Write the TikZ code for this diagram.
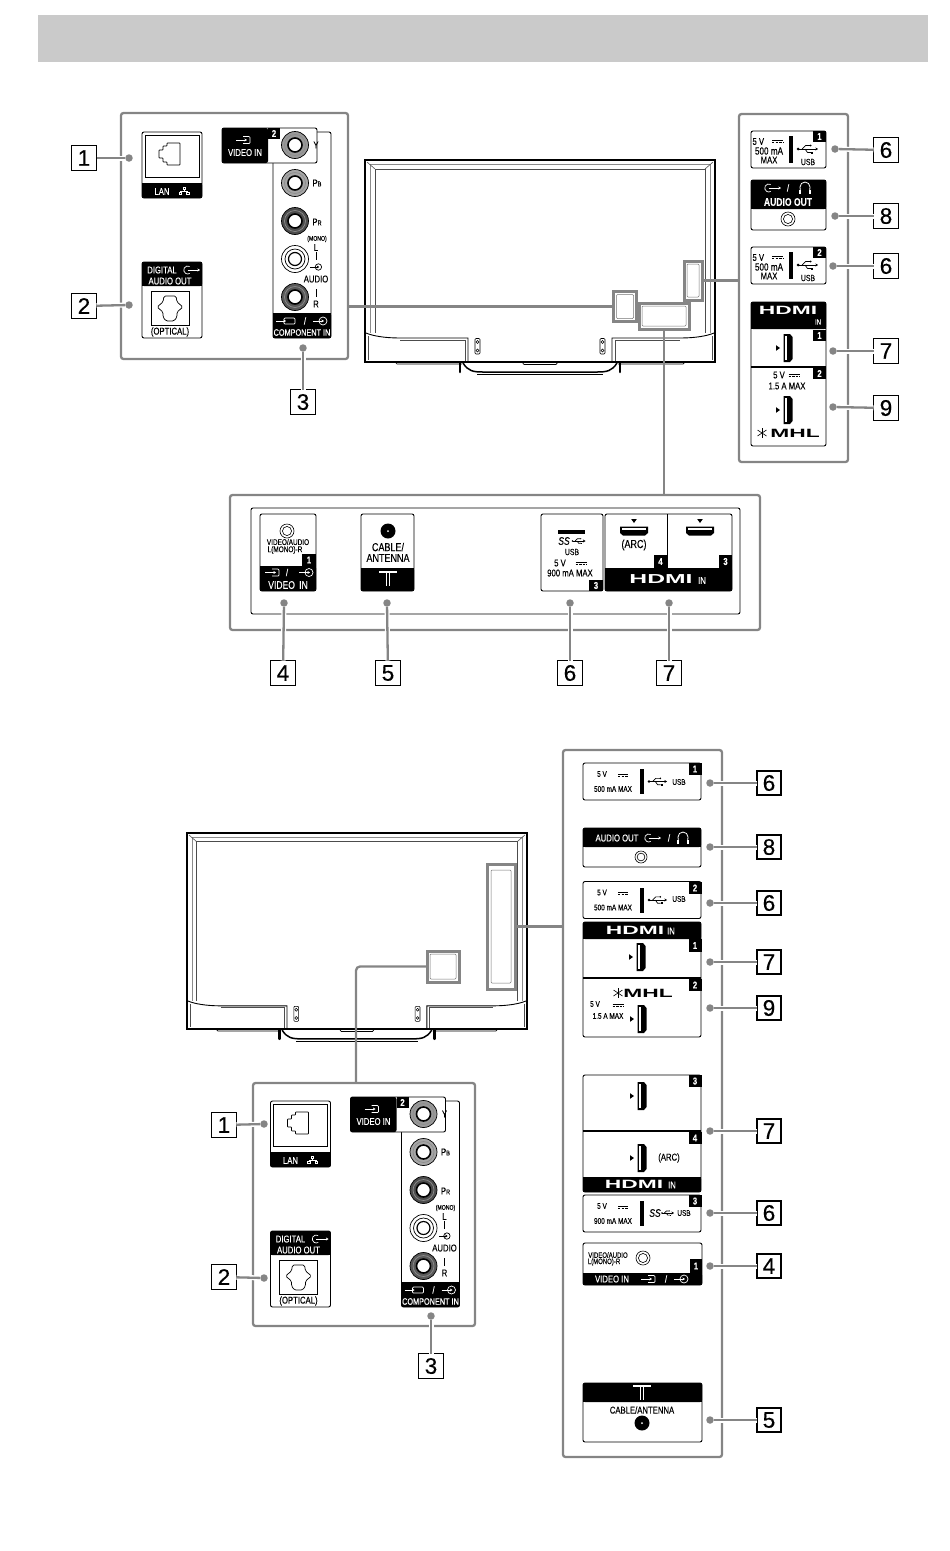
\documentclass[tikz,border=0pt]{standalone}
\usepackage{fontspec}
\setmainfont{Liberation Sans}
\newfontfamily\condfont[FakeStretch=0.78,Scale=1.1,FakeBold=0.15]{Liberation Sans}
\newfontfamily\numfont[FakeBold=0.5]{Liberation Sans}
\newfontfamily\logofont[FakeStretch=1.9]{Liberation Sans Bold}
\usetikzlibrary{arrows.meta}
\definecolor{wiregray}{HTML}{858585}
\definecolor{bandgray}{HTML}{CACACA}
\newcommand{\fs}[1]{\fontsize{#1}{#1}\selectfont}
\newcommand{\headbar}[4]{\fill[rounded corners=2] (#1,#2) rectangle (#3,#4); \fill (#1,#2+3) rectangle (#3,#4);}
\newcommand{\footbar}[4]{\fill[rounded corners=2] (#1,#2) rectangle (#3,#4); \fill (#1,#2) rectangle (#3,#4-3);}
\tikzset{
  >={Stealth[length=2.6pt,width=3pt]},
  lbl/.style={inner sep=0, outer sep=0, font=\condfont\fs{#1}},
  lbl/.default=9,
  wlbl/.style={lbl=#1, text=white},
  wlbl/.default=9,
  logo/.style={inner sep=0, outer sep=0, font=\logofont\fs{#1}},
  badge/.style={fill=black, text=white, inner sep=0, minimum width=13, minimum height=11.5, font=\condfont\bfseries\fs{9}},
  numbox/.style={draw, fill=white, line width=1.2, inner sep=0, outer sep=0, minimum width=25, minimum height=25, font=\numfont\fs{22.5}},
  dotmark/.style={circle, fill=wiregray, inner sep=0, outer sep=0, minimum size=7.5},
  wire/.style={draw=wiregray, line width=2.3},
  leadwire/.style={wire, preaction={draw=white, line width=5}},
  frame/.style={draw=wiregray, line width=2.3, rounded corners=2.5, inner sep=0, outer sep=0},
  portpanel/.style={draw, line width=0.9, rounded corners=2, inner sep=0, outer sep=0},
  cutout/.style={draw=wiregray, line width=3, inner sep=0, outer sep=0},
  cutin/.style={draw=black!55, line width=0.5, rounded corners=1},
  tvline/.style={draw=black!70, line width=0.6},
  pics/jack/.style={code={
    \draw[fill=#1, line width=0.7] (0,0) circle [radius=13.5];
    \draw[draw=black!45, line width=0.7] (0,0) circle [radius=10.5];
    \draw[fill=white, line width=1.6] (0,0) circle [radius=7];
  }},
  pics/wjack/.style={code={
    \draw[line width=0.7] (0,0) circle [radius=13.5];
    \draw[line width=0.7] (0,0) circle [radius=10];
    \draw[line width=1.2] (0,0) circle [radius=6.5];
  }},
  pics/minijack/.style={code={
    \draw[line width=0.6] (0,0) circle [radius=#1];
    \draw[line width=0.6] (0,0) circle [radius=#1*0.65];
  }},
  pics/coax/.style={code={
    \fill (0,0) circle [radius=7.5];
    \fill[white] (0,0) circle [radius=1];
  }},
  pics/boxin/.style={code={
    \draw[line width=0.7, rounded corners=1] (-1,-3.5) -- (6,-3.5) -- (6,3.5) -- (-1,3.5);
    \draw[line width=0.7, ->] (-8,0) -- (3,0);
  }},
  pics/circin/.style={code={
    \draw[line width=0.7] (3,0) circle [radius=4];
    \draw[line width=0.7, ->] (-7,0) -- (4,0);
  }},
  pics/compin/.style={code={
    \draw[line width=0.7, rounded corners=1] (-2,-3) rectangle (9,3);
    \draw[line width=0.7, ->] (-10,0) -- (0,0);
  }},
  pics/sigout/.style={code={
    \draw[line width=0.7] (-2.3,-3.5) arc [start angle=-60, end angle=-300, radius=4];
    \draw[line width=0.7, ->] (-4.3,0) -- (8,0);
  }},
  pics/phones/.style={code={
    \draw[line width=0.8] (-4.5,4) -- (-5,-1) arc [start angle=180, end angle=360, radius=5] -- (4.5,4);
    \fill (-5.8,1.5) rectangle (-3.8,5.5);
    \fill (3.8,1.5) rectangle (5.8,5.5);
  }},
  pics/dcsym/.style={code={
    \draw[line width=0.6] (-5.5,-1) -- (5.5,-1);
    \draw[line width=0.6, dash pattern=on 2.4pt off 1.2pt] (-5.5,1) -- (5.5,1);
  }},
  pics/trident/.style={code={
    \fill (-10,0) circle [radius=1.5];
    \draw[line width=0.7, ->] (-10,0) -- (10,0);
    \draw[line width=0.7] (-6,0) -- (-2.5,-3.5) -- (2,-3.5);
    \fill (2.6,-3.5) circle [radius=1];
    \draw[line width=0.7] (-3,0) -- (-0.5,3.5) -- (3,3.5);
    \fill (3,2.5) rectangle (5,4.5);
  }},
  pics/lansym/.style={code={
    \draw[line width=0.5] (-1.2,-3.8) rectangle (1.2,-1.8);
    \draw[line width=0.5] (0,-1.8) -- (0,0);
    \draw[line width=0.5] (-3.7,0) -- (3.7,0);
    \draw[line width=0.5] (-3.7,0) -- (-3.7,1.2);
    \draw[line width=0.5] (3.7,0) -- (3.7,1.2);
    \draw[line width=0.5] (-5,1.2) rectangle (-2.4,3.4);
    \draw[line width=0.5] (2.4,1.2) rectangle (5,3.4);
  }},
  pics/hdmiport/.style={code={
    \fill (-12,-2.8) -- (-8,0) -- (-12,2.8) -- cycle;
    \fill (-4.5,-14) -- (2,-14) -- (4.5,-11) -- (4.5,11) -- (2,14) -- (-4.5,14) -- cycle;
    \fill[white] (-2.8,-12) -- (-0.8,-12) -- (-0.8,12) -- (-2.8,12) -- cycle;
  }},
  pics/antsym/.style={code={
    \draw[line width=1.4] (-9,-7) -- (9,-7);
    \draw[line width=1] (-1.6,-7) -- (-1.6,7);
    \draw[line width=1] (1.6,-7) -- (1.6,7);
  }},
  pics/star/.style={code={
    \draw[line width=0.6] (-4.5,-3) -- (4.5,3);
    \draw[line width=0.6] (-4.5,3) -- (4.5,-3);
    \draw[line width=0.6] (0,-5) -- (0,5);
  }},
  pics/tvrear/.style={code={
    \draw[line width=1.5] (0,0) rectangle (350,202);
    \draw[draw=black!45, line width=0.6] (5,173) -- (5,4) -- (345,4) -- (345,173);
    \draw[tvline] (10,173) -- (10,9) -- (340,9) -- (340,173);
    \draw[tvline] (2,2) -- (10,9);
    \draw[tvline] (348,2) -- (340,9);
    \draw[line width=0.9] (103,201) -- (103,178) -- (35,178) .. controls (20,178) and (8,176) .. (1,173);
    \draw[line width=0.9] (247,201) -- (247,178) -- (315,178) .. controls (330,178) and (342,176) .. (349,173);
    \draw[tvline] (100,201) -- (100,180) -- (35,180);
    \draw[tvline] (250,201) -- (250,180) -- (315,180);
    \draw[tvline] (3,176) -- (3,200);
    \draw[tvline] (347,176) -- (347,200);
    \draw[line width=0.6, rounded corners=1] (110,178.5) rectangle (115,194);
    \draw[line width=0.6, rounded corners=1] (235,178.5) rectangle (240,194);
    \draw[line width=0.5] (112.5,182) circle [radius=1.5];
    \draw[line width=0.5] (112.5,190.5) circle [radius=1.5];
    \draw[line width=0.5] (237.5,182) circle [radius=1.5];
    \draw[line width=0.5] (237.5,190.5) circle [radius=1.5];
    \draw[line width=0.7] (30,202) -- (32,204) -- (97,204);
    \draw[line width=0.7] (253,204) -- (318,204) -- (320,202);
    \draw[line width=0.7] (157,202) -- (159,204.5) -- (191,204.5) -- (193,202);
    \draw[line width=2.6, line cap=round] (95,203) -- (95,212);
    \draw[line width=2.6, line cap=round] (255,203) -- (255,212);
    \draw[line width=1.5] (98,203) .. controls (103,211) and (108,212) .. (118,212) -- (232,212) .. controls (242,212) and (247,211) .. (252,203);
    \draw[line width=0.6] (112,214) -- (238,214);
  }},
  pics/usbtall/.style={code={
    \node[portpanel, minimum width=75, minimum height=37] (-box) at (0,0) {};
    \node[lbl, anchor=west] (-volt) at (-36,-8) {5 V};
    \pic (-dc) at (-11,-8.5) {dcsym};
    \node[lbl=9.5] (-amp) at (-19.5,1.5) {#1 mA};
    \node[lbl] (-max) at (-19.5,10.5) {MAX};
    \fill (0.5,-13.5) rectangle (4.5,13.5);
    \pic (-tri) at (19.5,-0.5) {trident};
    \node[lbl=8] (-usb) at (19.5,12.5) {USB};
  }},
  pics/usbwide/.style={code={
    \node[portpanel, minimum width=118, minimum height=37] (-box) at (0,0) {};
    \node[lbl=7.5] (-volt) at (-40,-7.5) {5 V};
    \pic[scale=0.9] (-dc) at (-19,-6.5) {dcsym};
    \node[lbl=7.5] (-amp) at (-29,7.5) {#1 mA MAX};
    \fill (-2,-12.5) rectangle (2,12.5);
  }},
  pics/rearpanel/.style={code={
    \footbar{142}{183}{202}{198}
    \node[portpanel, minimum width=60, minimum height=66] (-lan) at (172,165) {};
    \draw[line width=0.8] (145,135) rectangle (199,177);
    \draw[line width=0.7, rounded corners=0.6] (180,143) -- (167,143) -- (167,146) -- (163,146) -- (163,150) -- (159,150) -- (159,158) -- (163,158) -- (163,162) -- (167,162) -- (167,165) -- (180,165) -- cycle;
    \node[wlbl] (-lanlabel) at (162,191.5) {LAN};
    \pic[white] (-lansym) at (184,191) {lansym};
    \headbar{142}{262}{202}{286}
    \node[portpanel, minimum width=60, minimum height=76] (-optical) at (172,300) {};
    \node[wlbl] (-digital) at (162,270) {DIGITAL};
    \pic[white] (-out) at (192,270) {sigout};
    \node[wlbl] (-audioout) at (170,281) {AUDIO OUT};
    \draw[line width=0.8] (151,291) rectangle (189,325);
    \draw[line width=0.7, rounded corners=1.5] (164,296) -- (176,296) -- (177,302) -- (183,307) -- (177,312) -- (177,317) -- (174,321) -- (166,321) -- (163,317) -- (163,312) -- (157,307) -- (163,302) -- cycle;
    \node[lbl] (-opticallabel) at (170,332) {(OPTICAL)};
    \footbar{273}{313}{331}{338}
    \node[portpanel, minimum width=58, minimum height=206] (-comp) at (302,235) {};
    \node[portpanel, fill=white, minimum width=95, minimum height=35] (-ybox) at (269.5,145.5) {};
    \fill[rounded corners=2] (222,128) rectangle (268,163);
    \node[badge, minimum width=12, minimum height=11] (-two) at (274,133.5) {2};
    \pic[white] (-boxin) at (244,140) {boxin};
    \node[wlbl] (-videoin) at (245,152.5) {VIDEO IN};
    \pic (-jy) at (295,145) {jack=black!40};
    \pic (-jb) at (295,183) {jack=black!35};
    \pic (-jr) at (295,221) {jack=black!70};
    \pic (-jl) at (295,259) {wjack};
    \pic (-jm) at (295,297) {jack=black!65};
    \node[lbl] (-y) at (316,145) {Y};
    \node[lbl] (-pb) at (317,183) {P{\fs{6.5}B}};
    \node[lbl] (-pr) at (317,222) {P{\fs{6.5}R}};
    \node[lbl=6] (-mono) at (317,239) {(MONO)};
    \node[lbl] (-l) at (316,247.5) {L};
    \draw[line width=0.6] (316,252) -- (316,260);
    \pic[scale=0.8] (-auin) at (316,267) {circin};
    \node[lbl] (-audio) at (316,279) {AUDIO};
    \draw[line width=0.6] (316,289) -- (316,297);
    \node[lbl] (-r) at (316,304) {R};
    \pic[white] (-compicon) at (286,321) {compin};
    \node[wlbl] (-slash) at (305,321) {/};
    \pic[white] (-compcirc) at (320,321) {circin};
    \node[wlbl=8.5] (-compin) at (302,332.5) {COMPONENT IN};
  }},
}
\begin{document}
\begin{tikzpicture}[x=1pt, y=-1pt]
  \useasboundingbox (0,0) rectangle (950,1551);

  \fill[bandgray] (38,15) rectangle (928,62);

  \pic (tvtop) at (365,160) {tvrear};
  \pic[scale=0.971] (tvbot) at (187,833) {tvrear};

  \node[cutout, minimum width=23, minimum height=30] (cuta) at (625,306.5) {};
  \node[cutout, minimum width=50, minimum height=26] (cutb) at (664,316) {};
  \node[cutout, minimum width=18, minimum height=39] (cutc) at (693,280.5) {};
  \node[cutout, minimum width=32, minimum height=31] (cutd) at (443,966.5) {};
  \node[cutout, minimum width=28, minimum height=125] (cute) at (501,926.5) {};
  \draw[cutin] ([shift={(3,-3)}]cuta.south west) rectangle ([shift={(-3,3)}]cuta.north east);
  \draw[cutin] ([shift={(3,-3)}]cutb.south west) rectangle ([shift={(-3,3)}]cutb.north east);
  \draw[cutin] ([shift={(3,-3)}]cutc.south west) rectangle ([shift={(-3,3)}]cutc.north east);
  \draw[cutin] ([shift={(3,-3)}]cutd.south west) rectangle ([shift={(-3,3)}]cutd.north east);
  \draw[cutin] ([shift={(4,-6)}]cute.south west) rectangle ([shift={(-4,6)}]cute.north east);

  \node[frame, minimum width=227, minimum height=246] (framea) at (234.5,236) {};
  \node[frame, minimum width=109, minimum height=348] (frameb) at (793.5,288) {};
  \node[frame, minimum width=530, minimum height=135] (framec) at (495,562.5) {};
  \node[portpanel, minimum width=489, minimum height=106] (framecin) at (495.5,561) {};
  \node[frame, minimum width=222, minimum height=243] (framed) at (364,1204.5) {};
  \node[frame, minimum width=159, minimum height=707] (framee) at (642.5,1103.5) {};
  \coordinate (feed) at (356,1083);

  \draw[wire] (cuta.west) -- (cuta.west -| framea.east);
  \draw[wire] (cutc.east) -- (cutc.east -| frameb.west);
  \draw[wire] (cutb.south) -- (cutb.south |- framec.north);
  \draw[wire] (cute.east) -- (cute.east -| framee.west);
  \draw[wire, rounded corners=4] (cutd.west) -| (feed);

  \pic (reara) at (0,0) {rearpanel};
  \pic (reard) at (128.5,969) {rearpanel};

  \node[numbox] (n1a) at (84,158) {1};
  \node[numbox] (n2a) at (84,306) {2};
  \node[numbox] (n3a) at (303,402) {3};
  \node[dotmark] (d1a) at (129,158) {};
  \node[dotmark] (d2a) at (129,305) {};
  \node[dotmark] (d3a) at (303,348) {};
  \draw[leadwire] (n1a) -- (d1a);
  \draw[leadwire] (n2a) -- (d2a);
  \draw[leadwire] (n3a) -- (d3a);

  \node[numbox] (n1d) at (224,1125) {1};
  \node[numbox] (n2d) at (224,1277) {2};
  \node[numbox] (n3d) at (431,1366) {3};
  \node[dotmark] (d1d) at (264,1124) {};
  \node[dotmark] (d2d) at (264,1278) {};
  \node[dotmark] (d3d) at (431,1316) {};
  \draw[leadwire] (n1d) -- (d1d);
  \draw[leadwire] (n2d) -- (d2d);
  \draw[leadwire] (n3d) -- (d3d);

  \pic (usba) at (788.5,149.5) {usbtall=500};
  \node[badge] (usbabadge) at (819.5,136.5) {1};
  \pic (usbb) at (788.5,265.5) {usbtall=500};
  \node[badge] (usbbbadge) at (819.5,252.5) {2};

  \headbar{751}{180}{826}{209}
  \node[portpanel, minimum width=75, minimum height=50] (audioa) at (788.5,205) {};
  \pic[white] (audioaout) at (773,188) {sigout};
  \node[wlbl] (audioaslash) at (788,188) {/};
  \pic[white] (audioaph) at (805,188) {phones};
  \node[wlbl=10] (audioatext) at (788,202) {\bfseries AUDIO OUT};
  \pic (audioajack) at (788,219) {minijack=7};

  \headbar{751}{302}{826}{329}
  \node[portpanel, minimum width=75, minimum height=144] (hdmia) at (788.5,374) {};
  \node[logo=12, text=white] (hdmialogo) at (788,310.5) {HDMI};
  \node[wlbl=7] (hdmiain) at (818,322) {IN};
  \node[badge] (hdmiaone) at (819.5,335.5) {1};
  \pic (hdmiaport) at (788,348) {hdmiport};
  \draw[line width=1.4] (751,367) -- (826,367);
  \node[badge] (hdmiatwo) at (819.5,373.5) {2};
  \node[lbl] (hdmiavolt) at (779,375) {5 V};
  \pic (hdmiadc) at (794,375) {dcsym};
  \node[lbl] (hdmiaamp) at (787,386) {1.5 A MAX};
  \pic (hdmiaportb) at (788,410) {hdmiport};
  \pic (hdmiastar) at (762,433) {star};
  \node[logo=12] (hdmiamhl) at (795,433) {MHL};

  \node[numbox] (n6a) at (886,150) {6};
  \node[numbox] (n8a) at (886,216) {8};
  \node[numbox] (n6b) at (886,266) {6};
  \node[numbox] (n7a) at (886,351) {7};
  \node[numbox] (n9a) at (886,408) {9};
  \node[dotmark] (d6a) at (835,149) {};
  \node[dotmark] (d8a) at (835,216) {};
  \node[dotmark] (d6b) at (833,266) {};
  \node[dotmark] (d7a) at (833,351) {};
  \node[dotmark] (d9a) at (833,407) {};
  \draw[leadwire] (n6a) -- (d6a);
  \draw[leadwire] (n8a) -- (d8a);
  \draw[leadwire] (n6b) -- (d6b);
  \draw[leadwire] (n7a) -- (d7a);
  \draw[leadwire] (n9a) -- (d9a);

  \footbar{260}{566}{316}{591}
  \node[portpanel, minimum width=56, minimum height=77] (videoa) at (288,552.5) {};
  \pic (videoajack) at (287,531) {minijack=7};
  \node[lbl=7.5] (videoatext) at (288,542) {VIDEO/AUDIO};
  \node[lbl=7.5] (videoatextb) at (285,550) {L(MONO)-R};
  \node[badge, minimum width=14, minimum height=12] (videoabadge) at (309,560) {1};
  \pic[white] (videoabox) at (273,572.5) {boxin};
  \node[wlbl] (videoaslash) at (287,572.5) {/};
  \pic[white] (videoacirc) at (306,572.5) {circin};
  \node[wlbl=10] (videoain) at (288,585) {VIDEO\, IN};

  \footbar{361}{568}{414}{591}
  \node[portpanel, minimum width=53, minimum height=77] (cablea) at (387.5,552.5) {};
  \pic (cableajack) at (388,531) {coax};
  \node[lbl=10.5] (cableatext) at (388,547) {CABLE/};
  \node[lbl=10.5] (cableatextb) at (388,558) {ANTENNA};
  \pic[white] (cableaant) at (388,579) {antsym};

  \node[portpanel, minimum width=62, minimum height=77] (usbc) at (572,552.5) {};
  \fill (558,529.5) rectangle (585,533.5);
  \node[lbl=10] (usbcss) at (564,541) {\itshape SS};
  \pic[scale=0.65] (usbctri) at (579,541) {trident};
  \node[lbl=8] (usbclabel) at (572,552) {USB};
  \node[lbl] (usbcvolt) at (560,563) {5 V};
  \pic (usbcdc) at (581,563) {dcsym};
  \node[lbl] (usbcamp) at (570,573) {900 mA MAX};
  \node[badge, minimum width=14] (usbcbadge) at (596,585.5) {3};

  \footbar{605}{568}{732}{591}
  \node[portpanel, minimum width=127, minimum height=77] (hdmib) at (668.5,552.5) {};
  \draw[line width=0.9] (667,514) -- (667,568);
  \pic[rotate=-90] (hdmibport) at (634,531) {hdmiport};
  \node[lbl=10.5] (hdmibarc) at (634,545) {(ARC)};
  \pic[rotate=-90] (hdmibportb) at (700,531) {hdmiport};
  \node[badge, minimum height=13] (hdmibfour) at (660.5,561.5) {4};
  \node[badge, minimum height=13] (hdmibthree) at (725.5,561.5) {3};
  \node[logo=13, text=white] (hdmiblogo) at (661,579.5) {HDMI};
  \node[wlbl=9] (hdmibin) at (702,580.5) {IN};

  \node[numbox] (n4c) at (283,673) {4};
  \node[numbox] (n5c) at (388,673) {5};
  \node[numbox] (n6c) at (570,673) {6};
  \node[numbox] (n7c) at (669,673) {7};
  \node[dotmark] (d4c) at (284,603) {};
  \node[dotmark] (d5c) at (387,603) {};
  \node[dotmark] (d6c) at (570,603) {};
  \node[dotmark] (d7c) at (669,603) {};
  \draw[leadwire] (n4c) -- (d4c);
  \draw[leadwire] (n5c) -- (d5c);
  \draw[leadwire] (n6c) -- (d6c);
  \draw[leadwire] (n7c) -- (d7c);

  \pic (usbd) at (642,781.5) {usbwide=500};
  \pic[scale=0.9] (usbdtri) at (658,781.5) {trident};
  \node[lbl=7.5] (usbdlabel) at (679,782) {USB};
  \node[badge] (usbdbadge) at (695,769) {1};

  \headbar{583}{828}{701}{847}
  \node[portpanel, minimum width=118, minimum height=39] (audiob) at (642,847.5) {};
  \node[wlbl] (audiobtext) at (617,838) {AUDIO OUT};
  \pic[white] (audiobout) at (653,838) {sigout};
  \node[wlbl] (audiobslash) at (669,838) {/};
  \pic[white] (audiobph) at (683,838) {phones};
  \pic (audiobjack) at (641,857) {minijack=6};

  \pic (usbe) at (642,900) {usbwide=500};
  \pic[scale=0.9] (usbetri) at (658,900) {trident};
  \node[lbl=7.5] (usbelabel) at (679,899) {USB};
  \node[badge] (usbebadge) at (695,888) {2};

  \headbar{583}{922}{701}{939}
  \node[portpanel, minimum width=118, minimum height=115] (hdmic) at (642,979.5) {};
  \node[logo=12, text=white] (hdmiclogo) at (635,930.5) {HDMI};
  \node[wlbl] (hdmicin) at (671,931) {IN};
  \node[badge, minimum height=13] (hdmicone) at (695,945.5) {1};
  \pic (hdmicport) at (641,957) {hdmiport};
  \draw[line width=1.4] (583,978) -- (701,978);
  \node[badge] (hdmictwo) at (695,985) {2};
  \pic (hdmicstar) at (618,993) {star};
  \node[logo=12] (hdmicmhl) at (648,993) {MHL};
  \node[lbl=7.5] (hdmicvolt) at (595,1004) {5 V};
  \pic (hdmicdc) at (618,1005) {dcsym};
  \node[lbl=7.5] (hdmicamp) at (608,1016) {1.5 A MAX};
  \pic (hdmicportb) at (642,1019) {hdmiport};

  \footbar{583}{1177}{701}{1192}
  \node[portpanel, minimum width=118, minimum height=117] (hdmid) at (642,1133.5) {};
  \pic (hdmidport) at (642,1096) {hdmiport};
  \node[badge] (hdmidthree) at (695,1081) {3};
  \draw[line width=1.4] (583,1131) -- (701,1131);
  \pic (hdmidportb) at (642,1158) {hdmiport};
  \node[badge] (hdmidfour) at (695,1138) {4};
  \node[lbl] (hdmidarc) at (669,1158) {(ARC)};
  \node[logo=12, text=white] (hdmidlogo) at (634,1184.5) {HDMI};
  \node[wlbl] (hdmidin) at (672,1185) {IN};

  \pic (usbf) at (642,1213.5) {usbwide=900};
  \node[lbl=10] (usbfss) at (655,1213) {\itshape SS};
  \pic[scale=0.6] (usbftri) at (668,1213) {trident};
  \node[lbl=7.5] (usbflabel) at (684,1213) {USB};
  \node[badge] (usbfbadge) at (695,1201) {3};

  \footbar{583}{1273}{702}{1285}
  \node[portpanel, minimum width=119, minimum height=42] (videob) at (642.5,1264) {};
  \node[lbl=7] (videobtext) at (608,1255) {VIDEO/AUDIO};
  \node[lbl=7] (videobtextb) at (604,1262) {L(MONO)-R};
  \pic (videobjack) at (643,1258) {minijack=7};
  \node[badge, minimum width=12, minimum height=14] (videobbadge) at (696,1266) {1};
  \node[wlbl] (videobin) at (612,1279) {VIDEO IN};
  \pic[white] (videobbox) at (649,1279) {boxin};
  \node[wlbl] (videobslash) at (666,1279) {/};
  \pic[white] (videobcirc) at (681,1279) {circin};

  \headbar{583}{1383}{702}{1402}
  \node[portpanel, minimum width=119, minimum height=59] (cableb) at (642.5,1412.5) {};
  \pic[white] (cablebant) at (642,1393) {antsym};
  \node[lbl] (cablebtext) at (642,1410) {CABLE/ANTENNA};
  \pic (cablebjack) at (642,1423) {coax};

  \node[numbox, minimum width=24, minimum height=24] (n6d) at (769,783) {6};
  \node[numbox, minimum width=24, minimum height=24] (n8d) at (769,847) {8};
  \node[numbox, minimum width=24, minimum height=24] (n6e) at (769,903) {6};
  \node[numbox, minimum width=24, minimum height=24] (n7d) at (769,962) {7};
  \node[numbox, minimum width=24, minimum height=24] (n9d) at (769,1008) {9};
  \node[numbox, minimum width=24, minimum height=24] (n7e) at (769,1131) {7};
  \node[numbox, minimum width=24, minimum height=24] (n6f) at (769,1213) {6};
  \node[numbox, minimum width=24, minimum height=24] (n4d) at (769,1266) {4};
  \node[numbox, minimum width=24, minimum height=24] (n5d) at (769,1420) {5};
  \node[dotmark] (d6d) at (710,783) {};
  \node[dotmark] (d8d) at (710,847) {};
  \node[dotmark] (d6e) at (710,903) {};
  \node[dotmark] (d7d) at (710,962) {};
  \node[dotmark] (d9d) at (710,1008) {};
  \node[dotmark] (d7e) at (710,1131) {};
  \node[dotmark] (d6f) at (710,1213) {};
  \node[dotmark] (d4d) at (710,1266) {};
  \node[dotmark] (d5d) at (710,1420) {};
  \draw[leadwire] (n6d) -- (d6d);
  \draw[leadwire] (n8d) -- (d8d);
  \draw[leadwire] (n6e) -- (d6e);
  \draw[leadwire] (n7d) -- (d7d);
  \draw[leadwire] (n9d) -- (d9d);
  \draw[leadwire] (n7e) -- (d7e);
  \draw[leadwire] (n6f) -- (d6f);
  \draw[leadwire] (n4d) -- (d4d);
  \draw[leadwire] (n5d) -- (d5d);
\end{tikzpicture}
\end{document}
